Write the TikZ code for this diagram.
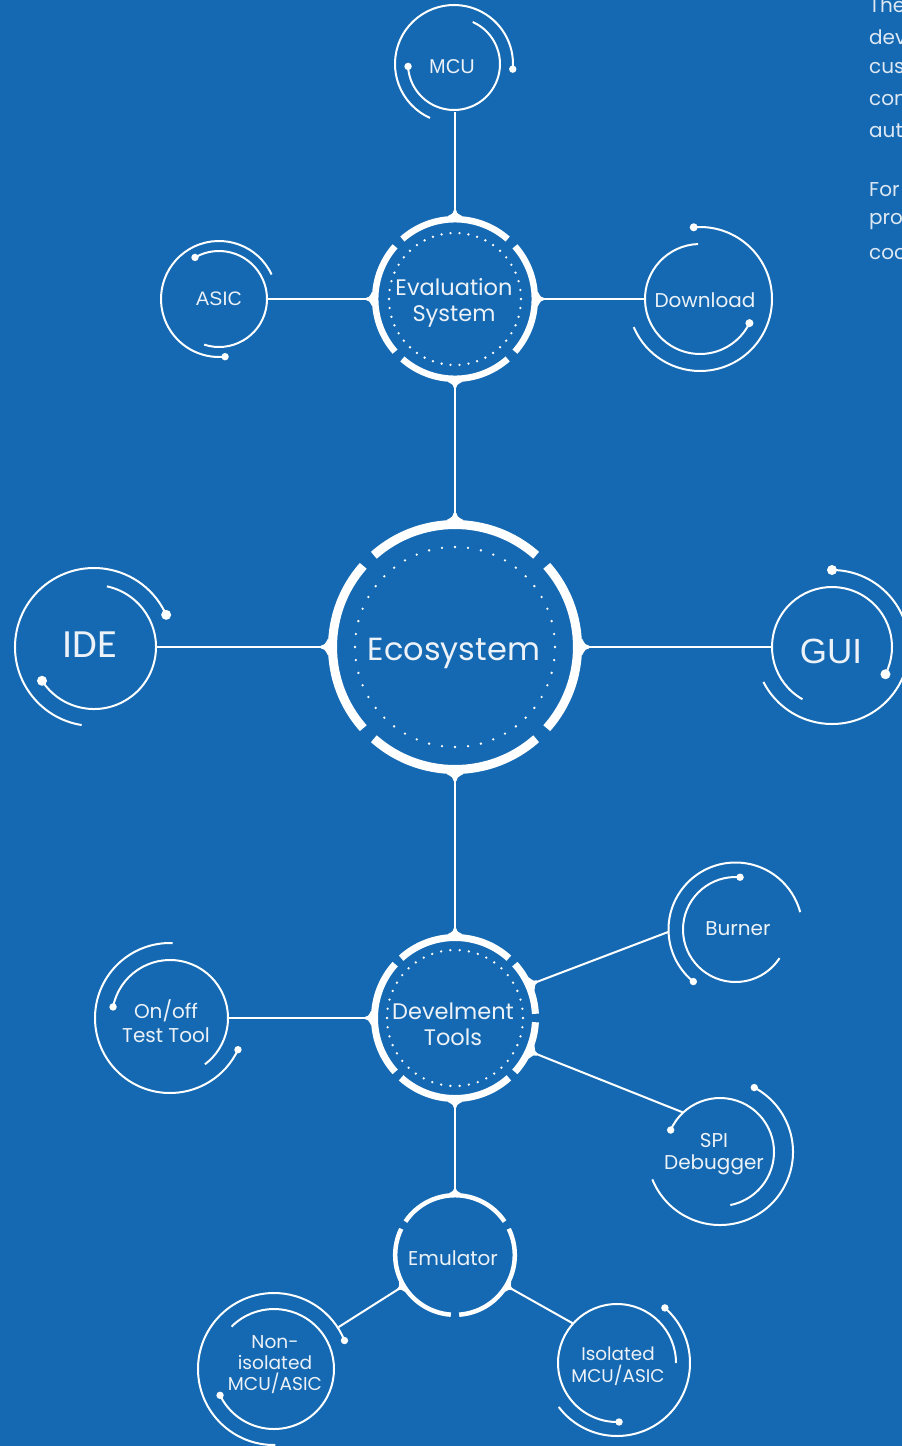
\documentclass[tikz,border=0pt]{standalone}
\usepackage{fontspec}
\setmainfont{Poppins}
\newfontfamily\arialfont{Liberation Sans}
\newfontfamily\calfont{Carlito}
\definecolor{bgblue}{RGB}{20,105,178}
\definecolor{labelink}{RGB}{236,242,248}
\definecolor{paraink}{RGB}{222,232,243}

% thin arc of radius #3 round (#1,#2) from angle #4 to #5;
% #6: 0 = plain, 1 = dot at the start, 2 = dot at the end
\newcommand{\dotrad}{3.7}
\newcommand{\haloarc}[6]{%
  \draw[haloline] ({#1+#3*cos(#4)},{#2+#3*sin(#4)}) arc[start angle=#4,end angle=#5,radius=#3];
  \ifcase#6\relax\or
    \fill[white] ({#1+#3*cos(#4)},{#2+#3*sin(#4)}) circle[radius=\dotrad];
  \or
    \fill[white] ({#1+#3*cos(#5)},{#2+#3*sin(#5)}) circle[radius=\dotrad];
  \fi}
% thick band segment: centre, radius, width, angles
\newcommand{\bandarc}[6]{%
  \draw[white,line width=#4] ({#1+#3*cos(#5)},{#2+#3*sin(#5)}) arc[start angle=#5,end angle=#6,radius=#3];}
% ring of small dots: centre, radius, count
\newcommand{\dotring}[4]{%
  \foreach \q in {1,...,#4}{\fill[white] ({#1+#3*cos(\q/#4*360)},{#2+#3*sin(\q/#4*360)}) circle[radius=1.3];}}

\tikzset{
  hub/.style={circle,minimum size=#1,inner sep=0pt,outer sep=0pt},
  conn/.style={draw=white,line width=2pt},
  haloline/.style={draw=white,line width=2pt},
  lbl/.style={text=labelink,align=center,inner sep=0pt},
  small/.style={lbl,font=\fontsize{20}{22}\selectfont},
  nub/.pic={\fill[white] (-2,-7) -- (0,-7) .. controls (2.5,-2.2) and (3.5,-1.1) .. (6,-1.1)
             -- (6,1.1) .. controls (3.5,1.1) and (2.5,2.2) .. (0,7) -- (-2,7) -- cycle;},
}

\begin{document}
\begin{tikzpicture}[x=1pt,y=-1pt]
\fill[bgblue] (0,0) rectangle (902,1446);
\useasboundingbox (0,0) rectangle (902,1446);

% ---------- hubs (named, used as connector ends) ----------
\node[hub=254pt] (eco)   at (455,647) {};
\node[hub=166pt] (eval)  at (455,299) {};
\node[hub=168pt] (devel) at (455,1018) {};
\node[hub=124pt] (emu)   at (455,1255) {};
\node[hub=96pt]  (mcu)   at (455,64) {};
\node[hub=96pt]  (asic)  at (219,299) {};
\node[hub=110pt] (download) at (700,299) {};
\node[hub=124pt] (ide)   at (94,647) {};
\node[hub=120pt] (gui)   at (832,647) {};
\node[hub=134pt] (burner) at (735.5,929.5) {};
\node[hub=108pt] (spi)   at (720,1152) {};
\node[hub=116pt] (onoff) at (170,1018) {};
\node[hub=154pt] (noniso) at (274,1369) {};
\node[hub=118pt] (iso)   at (617,1363) {};

% ---------- connectors ----------
\draw[conn] (mcu) -- (eval);
\draw[conn] (asic) -- (eval);
\draw[conn] (eval) -- (download);
\draw[conn] (eval) -- (eco);
\draw[conn] (ide) -- (eco);
\draw[conn] (eco) -- (gui);
\draw[conn] (eco) -- (devel);
\draw[conn] (onoff) -- (devel);
\draw[conn] (devel.24) -- (burner.182);
\draw[conn] (devel.-24) -- (spi.133);
\draw[conn] (devel) -- (emu);
\draw[conn] (emu.211) -- (noniso.33);
\draw[conn] (emu.329) -- (iso.138);

% ---------- Ecosystem ----------
\foreach \a in {0,90,180,270}{\bandarc{455}{647}{122.5}{9}{\a-41.5}{\a+41.5}}
\dotring{455}{647}{100}{48}
\foreach \a in {0,90,180,270}{\pic[rotate=\a,scale=1.2] at (eco.\a) {nub};}
\node[lbl,font=\fontsize{32}{38}\selectfont] at (454,653) {Ecosystem};

% ---------- Evaluation System ----------
\foreach \a in {0,90,180,270}{\bandarc{455}{299}{79.8}{6.5}{\a-41.3}{\a+41.3}}
\dotring{455}{299}{66}{46}
\foreach \a in {0,90,180,270}{\pic[rotate=\a] at (eval.\a) {nub};}
\node[lbl,font=\fontsize{22.5}{25.5}\selectfont] at (454,303) {Evaluation\\System};

% ---------- Develment Tools ----------
\bandarc{455}{1018}{80.5}{7}{48}{132}
\bandarc{455}{1018}{80.5}{7}{138}{222}
\bandarc{455}{1018}{80.5}{7}{228}{312}
\bandarc{455}{1018}{80.5}{7}{318}{357}
\bandarc{455}{1018}{80.5}{7}{3}{42}
\dotring{455}{1018}{68}{46}
\foreach \a in {90,180,270,24,-24}{\pic[rotate=\a] at (devel.\a) {nub};}
\node[lbl,font=\fontsize{22.5}{26}\selectfont] at (453,1024) {Develment\\Tools};

% ---------- Emulator ----------
\bandarc{455}{1255}{59.8}{4.5}{-146}{-34}
\bandarc{455}{1255}{59.8}{4.5}{-26}{86}
\bandarc{455}{1255}{59.8}{4.5}{94}{206}
\foreach \a in {90,211,329}{\pic[rotate=\a,scale=0.8] at (emu.\a) {nub};}
\node[small] at (453,1258) {Emulator};

% ---------- satellites ----------
% MCU
\haloarc{454}{64}{46}{-66}{177}{2}
\haloarc{454}{64}{59}{114}{365}{2}
\node[lbl,font=\arialfont\fontsize{20}{22}\selectfont] at (452,67) {MCU};
% ASIC
\haloarc{219}{299}{48}{-120}{108}{1}
\haloarc{219}{299}{58}{-25}{-276}{2}
\node[lbl,font=\arialfont\fontsize{19.5}{22}\selectfont] at (219,299) {ASIC};
% Download
{\renewcommand{\dotrad}{4}
\haloarc{700}{299}{55}{-92}{-334}{2}
\haloarc{700}{299}{72}{-95}{157}{1}}
\node[small] at (705,300) {Download};
% IDE
{\renewcommand{\dotrad}{5}
\haloarc{94}{647}{79}{99}{336}{2}
\haloarc{94}{647}{62}{-78}{147}{2}}
\node[lbl,font=\calfont\fontsize{40}{44}\selectfont] at (90,645) {IDE};
% GUI
{\renewcommand{\dotrad}{5}
\haloarc{832}{647}{60}{119.5}{387}{2}
\haloarc{832}{647}{77}{-90}{153}{1}}
\node[lbl,font=\arialfont\fontsize{35}{40}\selectfont] at (831,651) {GUI};
% Burner
\haloarc{735.5}{929.5}{67}{129}{345}{1}
\haloarc{735.5}{929.5}{52.5}{-85}{-327}{1}
\node[small] at (738,929) {Burner};
% SPI Debugger
\haloarc{720}{1152}{54}{-156}{79}{1}
\haloarc{720}{1152}{73}{-62}{158}{1}
\node[small,font=\fontsize{20}{22}\selectfont] at (714,1154) {SPI\\Debugger};
% On/off Test Tool
\haloarc{170}{1018}{75}{-88}{-335}{2}
\haloarc{170}{1018}{58}{-169}{53}{1}
\node[small,font=\fontsize{20}{24}\selectfont] at (166,1021) {On/off\\Test Tool};
% Non-isolated MCU/ASIC
\haloarc{274}{1369}{76}{89}{338}{2}
\haloarc{274}{1369}{60}{-135}{154}{2}
\node[small,font=\fontsize{18.6}{21}\selectfont] at (275,1365) {Non-\\isolated\\MCU/ASIC};
% Isolated MCU/ASIC
\haloarc{617}{1363}{59}{0}{-272}{2}
\haloarc{617}{1363}{73}{-49}{143}{1}
\node[small,font=\fontsize{18.4}{22}\selectfont] at (618,1366) {Isolated\\MCU/ASIC};

% ---------- side paragraph running off the page ----------
\foreach \t/\y in {The/5,dev/37,cus/68,con/100,aut/131,For/190,pro/222,coo/254}{
  \node[anchor=west,inner sep=0pt,text=paraink,font=\fontsize{20}{22}\selectfont] at (869,\y) {\t};}
\end{tikzpicture}
\end{document}
